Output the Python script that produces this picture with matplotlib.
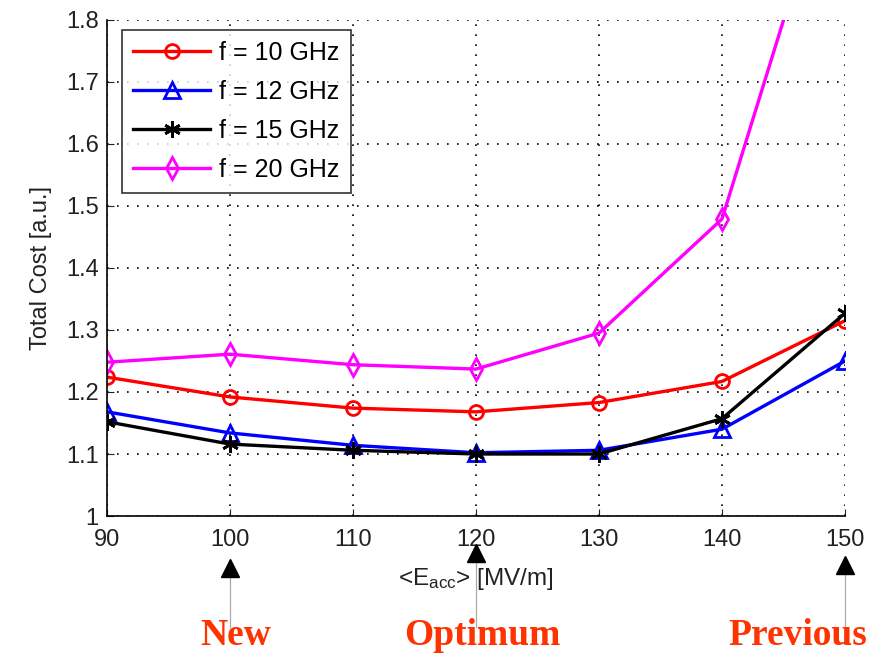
import matplotlib
matplotlib.use("Agg")
import matplotlib.pyplot as plt
import matplotlib.transforms as mtransforms

plt.rcParams['font.family'] = ['Liberation Sans', 'DejaVu Sans']
plt.rcParams['mathtext.fontset'] = 'custom'
plt.rcParams['mathtext.rm'] = 'Liberation Sans'
plt.rcParams['mathtext.it'] = 'Liberation Sans'

# Accelerating gradient [MV/m]
e_acc = [90, 100, 110, 120, 130, 140, 150]

# Total cost per frequency [a.u.]
cost_10ghz = [1.224, 1.192, 1.174, 1.168, 1.183, 1.217, 1.315]
cost_12ghz = [1.168, 1.134, 1.114, 1.102, 1.106, 1.140, 1.250]
cost_15ghz = [1.152, 1.116, 1.106, 1.100, 1.100, 1.157, 1.327]
cost_20ghz = [1.248, 1.261, 1.244, 1.237, 1.295, 1.479, 2.120]

series_labels = ["f = 10 GHz", "f = 12 GHz", "f = 15 GHz", "f = 20 GHz"]

x_ticks = [90, 100, 110, 120, 130, 140, 150]
y_ticks = [1.0, 1.1, 1.2, 1.3, 1.4, 1.5, 1.6, 1.7, 1.8]
y_tick_labels = ["1", "1.1", "1.2", "1.3", "1.4", "1.5", "1.6", "1.7", "1.8"]

# Gradients highlighted underneath the axis
marked_gradients = [100, 120, 150]
marked_labels = ["New", "Optimum", "Previous"]

fig = plt.figure(figsize=(8.76, 6.57), dpi=100)
ax = fig.add_axes([0.1221, 0.2146, 0.8425, 0.755])

styles = [
    dict(color="#ff0000", marker="o", ms=10),
    dict(color="#0000ff", marker="^", ms=11),
    dict(color="#000000", marker=(6, 2, 0), ms=12),
    dict(color="#ff00ff", marker="d", ms=11),
]
for vals, lab, st in zip([cost_10ghz, cost_12ghz, cost_15ghz, cost_20ghz], series_labels, styles):
    ax.plot(e_acc, vals, color=st["color"], lw=2.4, marker=st["marker"],
            ms=st["ms"], mfc="none", mec=st["color"], mew=2.0, label=lab)

ax.set_xlim(90, 150)
ax.set_ylim(1.0, 1.8)
ax.set_xticks(x_ticks)
ax.set_yticks(y_ticks)
ax.set_yticklabels(y_tick_labels)
ax.tick_params(direction="in", length=5, labelsize=17, colors="#222222", pad=6)
ax.tick_params(axis="x", pad=9)
ax.spines["top"].set_visible(False)
ax.spines["right"].set_visible(False)
for s in ("left", "bottom"):
    ax.spines[s].set_linewidth(1.2)
ax.grid(True, linestyle=(0, (1, 5)), color="black", lw=1.2)

ax.set_ylabel("Total Cost [a.u.]", fontsize=17, color="#222222", labelpad=10)
ax.set_xlabel(r"<E$_{\rm acc}$> [MV/m]", fontsize=17.5, color="#222222", labelpad=11)

leg = ax.legend(loc="upper left", bbox_to_anchor=(0.02, 0.98), fontsize=18,
                frameon=True, fancybox=False, edgecolor="black", handlelength=3.1,
                handletextpad=0.35, labelspacing=0.6, borderpad=0.45,
                borderaxespad=0)
leg.get_frame().set_linewidth(1.2)

# Arrows and labels below the x axis
trans = mtransforms.blended_transform_factory(ax.transData, fig.transFigure)
tip_y = {100: 0.148, 120: 0.170, 150: 0.152}
text_dx = {100: 0.5, 120: 0.5, 150: -3.8}
for xg, lab in zip(marked_gradients, marked_labels):
    ty = tip_y[xg]
    ax.plot([xg, xg], [0.045, ty - 0.01], transform=trans, color="#aaaaaa",
            lw=0.9, clip_on=False)
    ax.plot([xg], [ty - 0.012], transform=trans, marker="^", ms=13,
            color="black", clip_on=False, ls="none")
    ax.text(xg + text_dx[xg], 0.018, lab,
            transform=trans, ha="center", va="baseline", fontsize=27,
            fontweight="bold", family="Liberation Serif", color="#ff3300",
            clip_on=False)

fig.savefig("out.png", dpi=100)
